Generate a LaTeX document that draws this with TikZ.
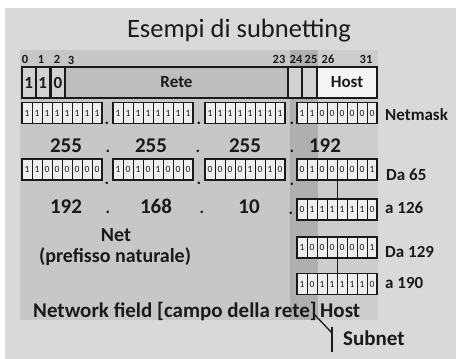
\documentclass[tikz,border=0pt]{standalone}
\usepackage{fontspec}
\setmainfont{Carlito}
\usetikzlibrary{calc}

\definecolor{pagebg}{HTML}{D9D9D9}
\definecolor{panelbg}{HTML}{C7C7C7}
\definecolor{subnetbg}{HTML}{AFAFAF}
\definecolor{hostbg}{HTML}{CDCDCD}
\definecolor{cellbg}{HTML}{EEEEEE}
\definecolor{retebg}{HTML}{BEBEBE}
\definecolor{smallbit}{HTML}{D2D2D2}
\definecolor{hostbox}{HTML}{F5F5F5}
\definecolor{ink}{HTML}{1A1A1A}

\tikzset{
  titletext/.style={font=\fontsize{26.5}{30}\selectfont, text=ink, inner sep=0pt, anchor=base},
  lbl/.style={font=\bfseries\fontsize{17}{19}\selectfont, text=ink, inner sep=0pt, anchor=base west},
  biglbl/.style={font=\bfseries\fontsize{21}{24}\selectfont, text=ink, inner sep=0pt, anchor=base west},
  netlbl/.style={font=\bfseries\fontsize{20}{22}\selectfont, text=ink, inner sep=0pt, anchor=base},
  dec/.style={font=\bfseries\fontsize{21}{24}\selectfont, text=ink, inner sep=0pt, anchor=base},
  ipdot/.style={font=\bfseries\fontsize{17}{19}\selectfont, text=ink, inner sep=0pt, anchor=base},
  idx/.style={font=\bfseries\fontsize{12.5}{14}\selectfont, text=ink, inner sep=0pt, anchor=base},
  fieldbox/.style={draw=ink, line width=1.5pt, inner sep=0pt, outer sep=0pt,
                   font=\bfseries\fontsize{17}{19}\selectfont, text=ink},
  octetbox/.style={draw=ink, fill=cellbg, line width=1.3pt, minimum width=80pt,
                   minimum height=21pt, inner sep=0pt, outer sep=0pt, anchor=west},
  cellsep/.style={draw=ink, line width=0.9pt},
  bitdigit/.style={font=\fontsize{9.5}{10}\selectfont, text=ink, inner sep=0pt},
  tick/.style={draw=ink, line width=0.9pt},
  bracket/.style={draw=ink, line width=1.3pt}
}

% one octet of bits: name, left x, centre y, comma list of bits
\newcommand{\octetrow}[4]{%
  \node[octetbox] (#1) at (#2,#3) {};
  \foreach \b [count=\i from 0] in {#4} {
    \ifnum\i>0 \draw[cellsep] ($(#1.west)+(\i*10,-10.5)$) -- ++(0,21); \fi
    \node[bitdigit] at ($(#1.west)+(\i*10+5,0)$) {\b};
  }%
}

\begin{document}
\begin{tikzpicture}[x=1pt,y=-1pt]
  \useasboundingbox (0,0) rectangle (456,359);
  \fill[white] (0,0) rectangle (456,359);
  \fill[pagebg] (5,8) rectangle (456,359);

  % address panel with subnet and host columns
  \fill[panelbg] (20,50) rectangle (378,320);
  \fill[hostbg] (318,50) rectangle (378,320);
  \fill[subnetbg] (290,50) rectangle (318,320);

  \node[titletext] (title) at (239,37) {Esempi di subnetting};

  % bit positions
  \node[idx] (i0) at (25,63) {0};
  \node[idx] (i1) at (41,63) {1};
  \node[idx] (i2) at (57,63) {2};
  \node[idx] (i3) at (71,64) {3};
  \node[idx] (i23) at (279,63) {23};
  \node[idx] (i24) at (296,63) {24};
  \node[idx] (i25) at (311,63) {25};
  \node[idx] (i26) at (328,63) {26};
  \node[idx] (i31) at (366,63) {31};

  % class C layout of the 32 bits
  \node[fieldbox, fill=smallbit, minimum width=13.5pt, minimum height=31pt, anchor=north west] (b0) at (22,67) {1};
  \node[fieldbox, fill=smallbit, minimum width=13.5pt, minimum height=31pt, anchor=north west] (b1) at (36,67) {1};
  \node[fieldbox, fill=smallbit, minimum width=14pt, minimum height=31pt, anchor=north west] (b2) at (51,67) {0};
  \node[fieldbox, fill=retebg, minimum width=223pt, minimum height=31pt, anchor=north west] (rete) at (65,67) {Rete};
  \node[fieldbox, fill=smallbit, minimum width=14pt, minimum height=31pt, anchor=north west] (b24) at (288,67) {};
  \node[fieldbox, fill=smallbit, minimum width=15pt, minimum height=31pt, anchor=north west] (b25) at (302,67) {};
  \node[fieldbox, fill=hostbox, minimum width=60pt, minimum height=31pt, anchor=north west] (host) at (317,67) {Host};

  % netmask
  \octetrow{nma}{22}{113}{1,1,1,1,1,1,1,1}
  \octetrow{nmb}{113}{113}{1,1,1,1,1,1,1,1}
  \octetrow{nmc}{205}{113}{1,1,1,1,1,1,1,1}
  \octetrow{nmd}{297}{113}{1,1,0,0,0,0,0,0}
  \node[ipdot] (nmp1) at (107,124) {.};
  \node[ipdot] (nmp2) at (199,124) {.};
  \node[ipdot] (nmp3) at (292,124) {.};
  \node[lbl] (lnm) at (385,120) {Netmask};

  \node[dec] (m1) at (66,152) {255};
  \node[ipdot] (mp1) at (108,152) {.};
  \node[dec] (m2) at (151,152) {255};
  \node[ipdot] (mp2) at (198,152) {.};
  \node[dec] (m3) at (245,152) {255};
  \node[ipdot] (mp3) at (292,152) {.};
  \node[dec] (m4) at (325,152) {192};

  % first host of the first subnet
  \octetrow{aa}{22}{169.5}{1,1,0,0,0,0,0,0}
  \octetrow{ab}{113}{169.5}{1,0,1,0,1,0,0,0}
  \octetrow{ac}{205}{169.5}{0,0,0,0,1,0,1,0}
  \octetrow{ad}{297}{169.5}{0,1,0,0,0,0,0,1}
  \node[ipdot] (ap1) at (107,184) {.};
  \node[ipdot] (ap2) at (199,184) {.};
  \node[ipdot] (ap3) at (292,185) {.};
  \node[lbl] (lda65) at (386,180) {Da 65};

  \node[dec] (n1) at (66,213) {192};
  \node[ipdot] (np1) at (108,213) {.};
  \node[dec] (n2) at (156,213) {168};
  \node[ipdot] (np2) at (202,213) {.};
  \node[dec] (n3) at (249,213) {10};
  \node[ipdot] (np3) at (291,214) {.};

  % last host of the first subnet
  \octetrow{ae}{297}{209.5}{0,1,1,1,1,1,1,0}
  \node[lbl] (la126) at (385,213) {a 126};
  \draw[tick] (ad.south) -- (ae.north);

  % second subnet
  \octetrow{ba}{297}{247.5}{1,0,0,0,0,0,0,1}
  \node[lbl] (lda129) at (385,257) {Da 129};
  \octetrow{bb}{297}{284}{1,0,1,1,1,1,1,0}
  \node[lbl] (la190) at (385,288) {a 190};
  \draw[tick] (ba.south) -- (bb.north);

  % field captions
  \node[netlbl] (net) at (116,241) {Net};
  \node[netlbl] (pref) at (115,262) {(prefisso naturale)};
  \node[biglbl] (netfield) at (33,317) {Network field [campo della rete]};
  \node[biglbl] (hostlbl) at (320,317) {Host};
  \node[biglbl] (subnetlbl) at (343,345) {Subnet};

  \coordinate (brA) at (313,313);
  \coordinate (brB) at (332,333);
  \coordinate (brT) at (332,327);
  \coordinate (brE) at (332,352);
  \draw[bracket] (brA) -- (brB);
  \draw[bracket] (brT) -- (brE);
\end{tikzpicture}
\end{document}
